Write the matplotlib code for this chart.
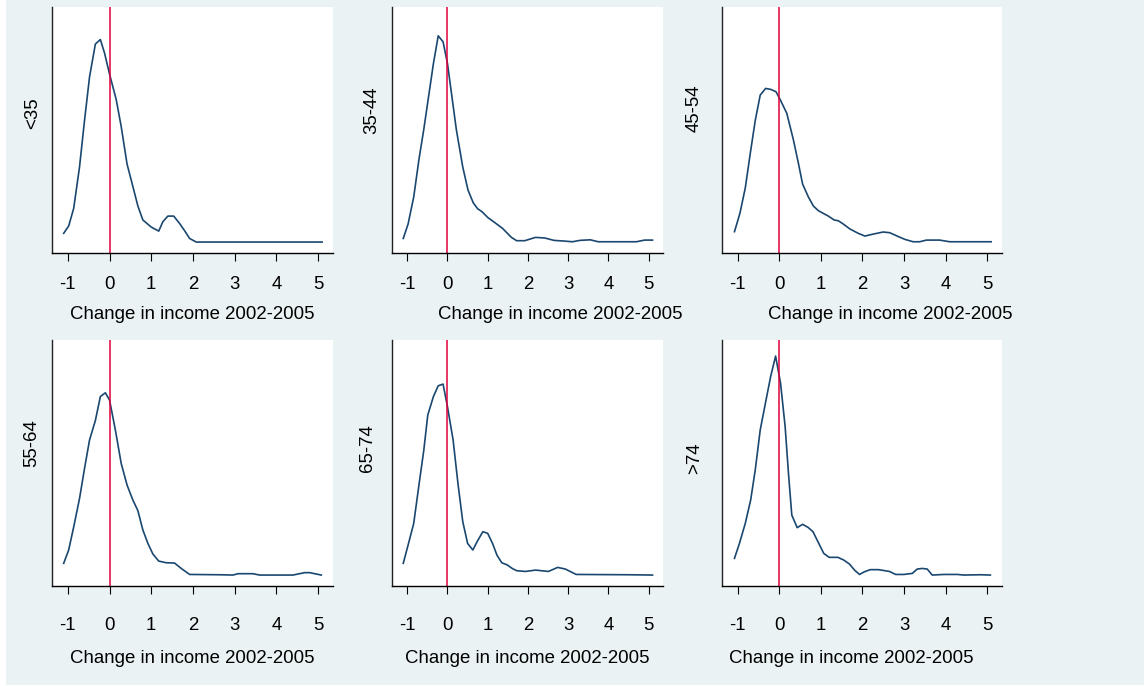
import matplotlib
matplotlib.use("Agg")
import matplotlib.pyplot as plt
from matplotlib.patches import Rectangle

plt.rcParams['font.family'] = ['Liberation Sans', 'DejaVu Sans']

# kernel density of income change, by age group
groups = ["<35", "35-44", "45-54", "55-64", "65-74", ">74"]

x_lt35 = [-1.10, -0.98, -0.86, -0.72, -0.60, -0.48, -0.34, -0.22, -0.12, 0.00, 0.16, 0.28,
          0.42, 0.56, 0.68, 0.80, 1.00, 1.18, 1.28, 1.40, 1.54, 1.68, 1.80, 1.92, 2.08, 5.10]
d_lt35 = [0.058, 0.107, 0.224, 0.50, 0.81, 1.10, 1.32, 1.35, 1.26, 1.12, 0.95, 0.77,
          0.52, 0.37, 0.24, 0.147, 0.10, 0.073, 0.136, 0.173, 0.173, 0.124, 0.076, 0.024, 0.0, 0.0]

x_35_44 = [-1.10, -0.98, -0.84, -0.71, -0.59, -0.47, -0.35, -0.23, -0.11, 0.00, 0.10, 0.22,
           0.38, 0.51, 0.64, 0.75, 0.86, 1.00, 1.17, 1.37, 1.59, 1.72, 1.92, 2.19, 2.42, 2.65,
           2.88, 3.11, 3.29, 3.55, 3.75, 4.70, 4.90, 5.10]
d_35_44 = [0.024, 0.12, 0.30, 0.55, 0.75, 0.97, 1.19, 1.375, 1.335, 1.19, 0.99, 0.75,
           0.50, 0.347, 0.262, 0.222, 0.202, 0.164, 0.131, 0.091, 0.031, 0.009, 0.009, 0.031, 0.027, 0.011,
           0.007, 0.002, 0.011, 0.015, 0.002, 0.002, 0.013, 0.013]

x_45_54 = [-1.08, -0.95, -0.82, -0.70, -0.58, -0.46, -0.33, -0.21, -0.08, 0.02, 0.18, 0.34,
           0.46, 0.56, 0.70, 0.82, 0.94, 1.06, 1.18, 1.32, 1.42, 1.54, 1.70, 1.90, 2.06, 2.26,
           2.50, 2.66, 2.82, 3.02, 3.22, 3.38, 3.54, 3.86, 4.10, 5.10]
d_45_54 = [0.069, 0.19, 0.36, 0.59, 0.81, 0.98, 1.024, 1.018, 1.002, 0.95, 0.858, 0.68,
           0.524, 0.387, 0.30, 0.24, 0.209, 0.191, 0.173, 0.147, 0.142, 0.12, 0.087, 0.058, 0.04, 0.053,
           0.067, 0.062, 0.042, 0.018, 0.002, 0.002, 0.013, 0.013, 0.002, 0.002]

x_55_64 = [-1.10, -0.98, -0.86, -0.72, -0.60, -0.48, -0.34, -0.22, -0.10, 0.00, 0.14, 0.28,
           0.42, 0.56, 0.68, 0.80, 0.92, 1.04, 1.18, 1.36, 1.56, 1.72, 1.92, 2.64, 2.96, 3.08,
           3.44, 3.60, 4.40, 4.68, 4.80, 5.08]
d_55_64 = [0.078, 0.167, 0.32, 0.51, 0.71, 0.90, 1.03, 1.19, 1.215, 1.167, 0.967, 0.744,
           0.60, 0.50, 0.429, 0.30, 0.211, 0.14, 0.093, 0.082, 0.08, 0.044, 0.004, 0.002, 0.0, 0.009,
           0.009, 0.0, 0.0, 0.016, 0.016, 0.0]

x_65_74 = [-1.10, -0.98, -0.84, -0.71, -0.59, -0.49, -0.35, -0.23, -0.11, 0.00, 0.14, 0.26,
           0.38, 0.50, 0.63, 0.75, 0.88, 1.00, 1.12, 1.23, 1.35, 1.49, 1.61, 1.72, 1.94, 2.19,
           2.51, 2.74, 2.93, 3.20, 4.50, 5.10]
d_65_74 = [0.078, 0.20, 0.344, 0.60, 0.83, 1.067, 1.19, 1.262, 1.273, 1.122, 0.90, 0.611,
           0.356, 0.211, 0.167, 0.229, 0.289, 0.278, 0.211, 0.133, 0.082, 0.067, 0.044, 0.029, 0.024, 0.033,
           0.024, 0.051, 0.04, 0.004, 0.002, 0.0]

x_gt74 = [-1.08, -0.96, -0.82, -0.69, -0.58, -0.46, -0.32, -0.21, -0.09, 0.03, 0.14, 0.22,
          0.30, 0.43, 0.56, 0.69, 0.81, 0.93, 1.07, 1.20, 1.41, 1.55, 1.69, 1.81, 1.93, 2.05,
          2.19, 2.39, 2.65, 2.80, 3.00, 3.20, 3.32, 3.44, 3.56, 3.68, 3.96, 4.28, 4.44, 4.84, 5.08]
d_gt74 = [0.111, 0.211, 0.344, 0.50, 0.70, 0.967, 1.167, 1.322, 1.46, 1.278, 0.989, 0.678,
          0.40, 0.316, 0.338, 0.318, 0.289, 0.222, 0.144, 0.118, 0.118, 0.10, 0.073, 0.033, 0.004, 0.022,
          0.036, 0.036, 0.024, 0.004, 0.004, 0.011, 0.04, 0.044, 0.04, 0.0, 0.004, 0.004, 0.0, 0.002, 0.0]

xs = [x_lt35, x_35_44, x_45_54, x_55_64, x_65_74, x_gt74]
ds = [d_lt35, d_35_44, d_45_54, d_55_64, d_65_74, d_gt74]
xticks = [-1, 0, 1, 2, 3, 4, 5]
xlabel = "Change in income 2002-2005"

W, H = 1144, 686
# panel boxes in pixels: left, top, width, height
boxes = [(52, 7, 281, 246), (392, 7, 271, 246), (722, 7, 280, 246),
         (52, 340, 281, 246), (392, 340, 271, 246), (722, 340, 280, 246)]
ylab_pos = [(-0.068, 0.57), (-0.074, 0.58), (-0.10, 0.59),
            (-0.071, 0.58), (-0.089, 0.56), (-0.096, 0.52)]
xlab_x = [0.5, 0.62, 0.60, 0.5, 0.5, 0.46]

bg = "#eaf2f3"
navy = "#1a476f"
red = "#e0003c"
fs = 13.4

fig = plt.figure(figsize=(W / 100, H / 100), dpi=100, facecolor="white")
fig.patches.append(Rectangle((6 / W, 1 / H), (W - 6) / W, (H - 1) / H,
                             transform=fig.transFigure, facecolor=bg, edgecolor="none", zorder=-10))

for i, (g, x, d) in enumerate(zip(groups, xs, ds)):
    l, t, w, h = boxes[i]
    ax = fig.add_axes([l / W, (H - t - h) / H, w / W, h / H])
    ax.set_facecolor("white")
    ax.plot(x, d, color=navy, lw=1.2)
    ax.axvline(0, color=red, lw=1.1)
    ax.set_xlim(-1.38, 5.36)
    ax.set_ylim(-0.073, 1.567)
    ax.set_xticks(xticks)
    ax.set_xticklabels([str(v) for v in xticks])
    ax.set_yticks([])
    for s in ["top", "right"]:
        ax.spines[s].set_visible(False)
    ax.spines["left"].set_color("#222222")
    ax.spines["bottom"].set_color("black")
    ax.spines["left"].set_linewidth(1.0)
    ax.spines["bottom"].set_linewidth(1.0)
    upper = i < 3
    ax.tick_params(axis="x", direction="out", length=5.8, width=0.8, labelsize=fs,
                   pad=11.0 if upper else 16.5)
    ax.set_xlabel(xlabel, fontsize=fs)
    ax.xaxis.label.set_va("center")
    ax.xaxis.set_label_coords(xlab_x[i], -0.252 if upper else -0.293)
    px, py = ylab_pos[i]
    ax.text(px, py, g, rotation=90, ha="center", va="center", fontsize=fs,
            transform=ax.transAxes)

fig.savefig("out.png", dpi=100, facecolor=fig.get_facecolor())
